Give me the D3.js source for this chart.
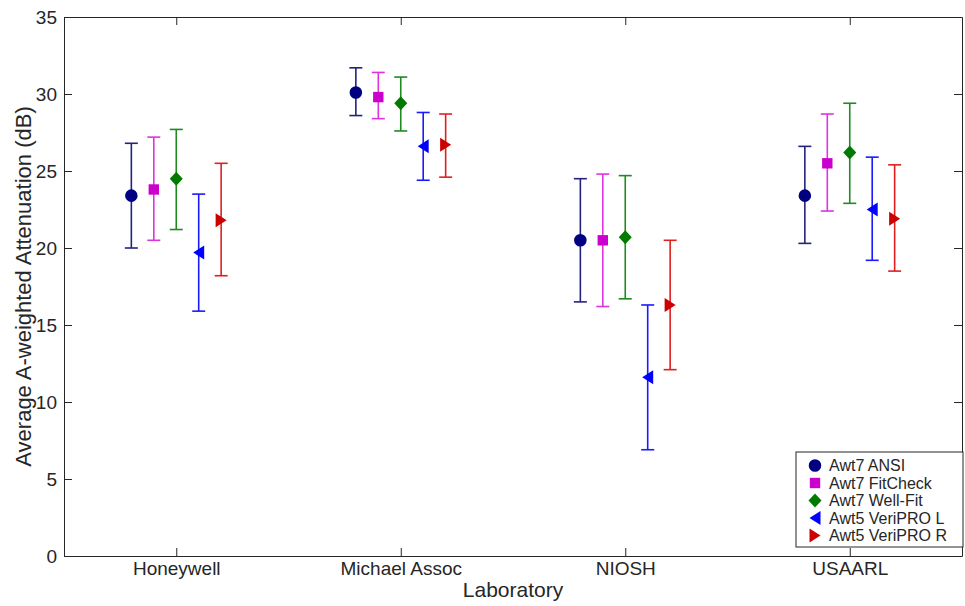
<!DOCTYPE html>
<html>
<head>
<meta charset="utf-8">
<script src="https://cdn.jsdelivr.net/npm/d3@7"></script>
<style>
body { margin: 0; background: #fff; }
text { font-family: "Liberation Sans", Arial, sans-serif; fill: #262626; }
</style>
</head>
<body>
<div id="chart"></div>
<script>
// labs on the x axis
var labs = ["Honeywell", "Michael Assoc", "NIOSH", "USAARL"];
var seriesNames = ["Awt7 ANSI", "Awt7 FitCheck", "Awt7 Well-Fit", "Awt5 VeriPRO L", "Awt5 VeriPRO R"];
// mean attenuation per lab, one array per series
var ansiMean = [23.4, 30.1, 20.5, 23.4];
var fitcheckMean = [23.8, 29.8, 20.5, 25.5];
var wellfitMean = [24.5, 29.4, 20.7, 26.2];
var veriLMean = [19.7, 26.6, 11.6, 22.5];
var veriRMean = [21.8, 26.7, 16.3, 21.9];
// error bar ends
var ansiLow = [20.0, 28.6, 16.5, 20.3];
var ansiHigh = [26.8, 31.7, 24.5, 26.6];
var fitcheckLow = [20.5, 28.4, 16.2, 22.4];
var fitcheckHigh = [27.2, 31.4, 24.8, 28.7];
var wellfitLow = [21.2, 27.6, 16.7, 22.9];
var wellfitHigh = [27.7, 31.1, 24.7, 29.4];
var veriLLow = [15.9, 24.4, 6.9, 19.2];
var veriLHigh = [23.5, 28.8, 16.3, 25.9];
var veriRLow = [18.2, 24.6, 12.1, 18.5];
var veriRHigh = [25.5, 28.7, 20.5, 25.4];
var yTicks = [0, 5, 10, 15, 20, 25, 30, 35];

var series = [
  {name: seriesNames[0], mean: ansiMean, lo: ansiLow, hi: ansiHigh, line: "#23237f", fill: "#000080", shape: "circle"},
  {name: seriesNames[1], mean: fitcheckMean, lo: fitcheckLow, hi: fitcheckHigh, line: "#e033e0", fill: "#cc00cc", shape: "square"},
  {name: seriesNames[2], mean: wellfitMean, lo: wellfitLow, hi: wellfitHigh, line: "#1f8a1f", fill: "#007a00", shape: "diamond"},
  {name: seriesNames[3], mean: veriLMean, lo: veriLLow, hi: veriLHigh, line: "#1a1aff", fill: "#0000ff", shape: "left"},
  {name: seriesNames[4], mean: veriRMean, lo: veriRLow, hi: veriRHigh, line: "#e02020", fill: "#cc0000", shape: "right"}
];

var svgWidth = 965;
var svgHeight = 606;
var margin = {top: 17, right: 3, bottom: 50, left: 64};
var width = svgWidth - margin.left - margin.right;
var height = svgHeight - margin.top - margin.bottom;

var svg = d3.select("#chart")
  .append("svg")
  .attr("width", svgWidth)
  .attr("height", svgHeight);

var chartGroup = svg.append("g")
  .attr("transform", `translate(${margin.left}, ${margin.top})`);

var xScale = d3.scaleLinear().domain([0.5, 4.5]).range([0, width]);
var yScale = d3.scaleLinear().domain([0, 35]).range([height, 0]);

// axes, MATLAB style box with inward ticks
var tickLen = 8;
var bottomAxis = d3.axisBottom(xScale).tickValues([1, 2, 3, 4])
  .tickFormat(d => labs[d - 1]).tickSizeInner(-tickLen).tickSizeOuter(0).tickPadding(6);
var leftAxis = d3.axisLeft(yScale).tickValues(yTicks)
  .tickSizeInner(-tickLen).tickSizeOuter(0).tickPadding(7);
var topAxis = d3.axisTop(xScale).tickValues([1, 2, 3, 4])
  .tickFormat("").tickSizeInner(-tickLen).tickSizeOuter(0);
var rightAxis = d3.axisRight(yScale).tickValues(yTicks)
  .tickFormat("").tickSizeInner(-tickLen).tickSizeOuter(0);

var xAxis = chartGroup.append("g").attr("transform", `translate(0, ${height})`).call(bottomAxis);
var yAxis = chartGroup.append("g").call(leftAxis);
chartGroup.append("g").call(topAxis);
chartGroup.append("g").attr("transform", `translate(${width}, 0)`).call(rightAxis);

chartGroup.selectAll(".domain").attr("stroke", "#262626");
chartGroup.selectAll(".tick line").attr("stroke", "#262626");
xAxis.selectAll("text").style("font-size", "19px");
yAxis.selectAll("text").style("font-size", "19px");

// axis titles
chartGroup.append("text")
  .attr("x", width / 2)
  .attr("y", height + 41)
  .attr("text-anchor", "middle")
  .style("font-size", "21px")
  .text("Laboratory");

chartGroup.append("text")
  .attr("transform", "rotate(-90)")
  .attr("x", -height / 2)
  .attr("y", -33)
  .attr("text-anchor", "middle")
  .style("font-size", "22px")
  .text("Average A-weighted Attenuation (dB)");

function markerPath(shape) {
  if (shape === "circle") return d3.symbol(d3.symbolCircle, 124)();
  if (shape === "square") return "M-5.2,-5.2L5.2,-5.2L5.2,5.2L-5.2,5.2Z";
  if (shape === "diamond") return "M0,-7L6.5,0L0,7L-6.5,0Z";
  if (shape === "left") return "M-5.5,0L5.5,-7L5.5,7Z";
  return "M5.5,0L-5.5,-7L-5.5,7Z";
}

var offsets = [-0.2, -0.1, 0, 0.1, 0.2];
var capHalf = 6.5;

series.forEach(function(s, i) {
  var g = chartGroup.append("g");
  var pts = labs.map((lab, j) => ({x: j + 1 + offsets[i], m: s.mean[j], lo: s.lo[j], hi: s.hi[j]}));

  g.selectAll(".bar").data(pts).enter().append("line")
    .attr("x1", d => xScale(d.x)).attr("x2", d => xScale(d.x))
    .attr("y1", d => yScale(d.lo)).attr("y2", d => yScale(d.hi))
    .attr("stroke", s.line).attr("stroke-width", 1.6);
  g.selectAll(".capTop").data(pts).enter().append("line")
    .attr("x1", d => xScale(d.x) - capHalf).attr("x2", d => xScale(d.x) + capHalf)
    .attr("y1", d => yScale(d.hi)).attr("y2", d => yScale(d.hi))
    .attr("stroke", s.line).attr("stroke-width", 1.6);
  g.selectAll(".capBot").data(pts).enter().append("line")
    .attr("x1", d => xScale(d.x) - capHalf).attr("x2", d => xScale(d.x) + capHalf)
    .attr("y1", d => yScale(d.lo)).attr("y2", d => yScale(d.lo))
    .attr("stroke", s.line).attr("stroke-width", 1.6);
  g.selectAll(".mark").data(pts).enter().append("path")
    .attr("d", markerPath(s.shape))
    .attr("transform", d => `translate(${xScale(d.x)}, ${yScale(d.m)})`)
    .attr("fill", s.fill);
});

// legend
var legend = svg.append("g").attr("transform", "translate(796, 452)");
legend.append("rect")
  .attr("width", 167).attr("height", 95)
  .attr("fill", "#fff").attr("stroke", "#262626").attr("stroke-width", 1);
series.forEach(function(s, i) {
  var row = legend.append("g").attr("transform", `translate(19, ${13.5 + i * 17.5})`);
  row.append("path").attr("d", markerPath(s.shape)).attr("fill", s.fill);
  row.append("text").attr("x", 14).attr("y", 5.5)
    .style("font-size", "16px").text(s.name);
});
</script>
</body>
</html>
